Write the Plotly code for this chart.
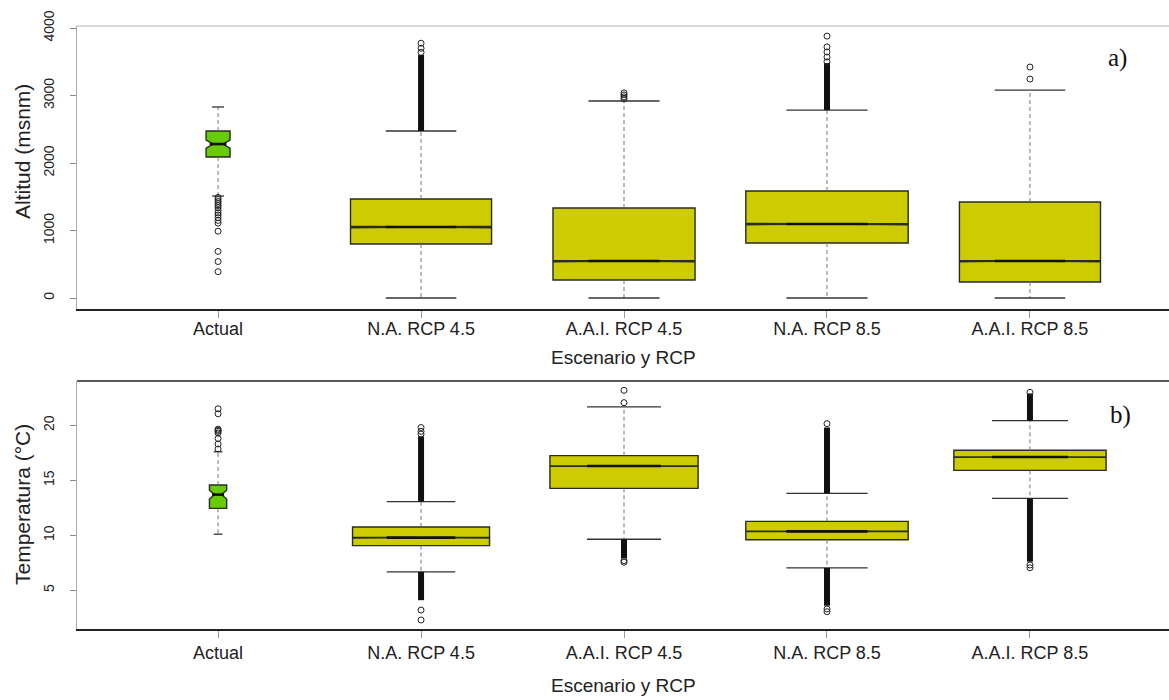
import plotly.graph_objects as go

# ---------------- data ----------------
cats = ["Actual", "N.A. RCP 4.5", "A.A.I. RCP 4.5", "N.A. RCP 8.5", "A.A.I. RCP 8.5"]
positions = [1, 2, 3, 4, 5]

# a) Altitud (msnm)
alt_q1 = [2089, 800, 267, 815, 237]
alt_med = [2281, 1052, 548, 1096, 548]
alt_q3 = [2474, 1467, 1333, 1585, 1422]
alt_lo = [1511, 0, 0, 0, 0]
alt_hi = [2830, 2474, 2919, 2785, 3081]
alt_notch = [60, 12, 10, 10, 10]
alt_width = [0.118, 0.695, 0.70, 0.80, 0.695]
alt_dense_lo = [None, 2474, None, 2785, None]
alt_dense_hi = [None, 3600, None, 3480, None]
alt_out = [
    [1490, 1460, 1430, 1400, 1370, 1340, 1300, 1260, 1230, 1190, 1150, 1110, 990, 690, 540, 390],
    [3640, 3700, 3775],
    [2950, 2980, 3010, 3040],
    [3500, 3570, 3645, 3720, 3880],
    [3244, 3422],
]

# b) Temperatura (°C)
tmp_q1 = [12.45, 9.06, 14.27, 9.6, 15.9]
tmp_med = [13.7, 9.79, 16.3, 10.36, 17.12]
tmp_q3 = [14.57, 10.76, 17.24, 11.27, 17.73]
tmp_lo = [10.1, 6.67, 9.64, 7.03, 13.36]
tmp_hi = [17.6, 13.06, 21.67, 13.82, 20.42]
tmp_notch = [0.4, 0.03, 0.03, 0.03, 0.03]
tmp_width = [0.085, 0.675, 0.73, 0.80, 0.75]
tmp_dense_up_lo = [None, 13.06, None, 13.82, 20.42]
tmp_dense_up_hi = [None, 19.0, None, 19.8, 22.9]
tmp_dense_dn_lo = [None, 4.1, 7.9, 3.6, 7.6]
tmp_dense_dn_hi = [None, 6.67, 9.64, 7.03, 13.36]
tmp_out = [
    [17.85, 18.3, 18.8, 19.3, 19.45, 19.55, 19.65, 21.05, 21.5],
    [19.2, 19.45, 19.8, 3.2, 2.3],
    [22.06, 23.18, 7.7, 7.55],
    [20.15, 3.3, 3.05],
    [23.0, 7.3, 7.05],
]

alt_ticks = [0, 1000, 2000, 3000, 4000]
tmp_ticks = [5, 10, 15, 20]

# ---------------- style ----------------
fills = ["#66CC00", "#CCCC00", "#CCCC00", "#CCCC00", "#CCCC00"]
notchw = [0.3, 0.5, 0.5, 0.5, 0.5]
FONT = "Liberation Sans, Arial, sans-serif"

fig = go.Figure()


def add_panel(xa, ya, q1, med, q3, lo, hi, notch, width, dense, outs):
    # whiskers (dashed)
    wx, wy, cx, cy = [], [], [], []
    for p, a, b, c, d, w in zip(positions, q1, q3, lo, hi, width):
        wx += [p, p, None, p, p, None]
        wy += [b, d, None, a, c, None]
        cw = w * 0.25
        cx += [p - cw, p + cw, None, p - cw, p + cw, None]
        cy += [d, d, None, c, c, None]
    fig.add_trace(go.Scatter(x=wx, y=wy, mode="lines", xaxis=xa, yaxis=ya,
                             line=dict(color="#777777", width=1, dash="4px,3px"),
                             showlegend=False, hoverinfo="skip"))
    fig.add_trace(go.Scatter(x=cx, y=cy, mode="lines", xaxis=xa, yaxis=ya,
                             line=dict(color="#333333", width=1.3),
                             showlegend=False, hoverinfo="skip"))
    # boxes
    for i, p in enumerate(positions):
        fig.add_trace(go.Box(
            x=[p], q1=[q1[i]], median=[med[i]], q3=[q3[i]],
            lowerfence=[q1[i]], upperfence=[q3[i]],
            notched=True, notchspan=[notch[i]], notchwidth=notchw[i],
            width=width[i], whiskerwidth=0,
            fillcolor=fills[i], line=dict(color="#2a2a2a", width=1.4),
            xaxis=xa, yaxis=ya, showlegend=False, boxpoints=False,
            name=cats[i]))
    # thick medians
    mx, my = [], []
    for p, m, w, nw in zip(positions, med, width, notchw):
        h = w / 2 * (1 - nw)
        mx += [p - h, p + h, None]
        my += [m, m, None]
    fig.add_trace(go.Scatter(x=mx, y=my, mode="lines", xaxis=xa, yaxis=ya,
                             line=dict(color="#111111", width=2.6),
                             showlegend=False, hoverinfo="skip"))
    # dense outlier columns
    dx, dy = [], []
    for lo_list, hi_list in dense:
        for p, a, b in zip(positions, lo_list, hi_list):
            if a is not None:
                dx += [p, p, None]
                dy += [a, b, None]
    fig.add_trace(go.Scatter(x=dx, y=dy, mode="lines", xaxis=xa, yaxis=ya,
                             line=dict(color="#111111", width=6),
                             showlegend=False, hoverinfo="skip"))
    # sparse outliers
    ox, oy = [], []
    for p, vals in zip(positions, outs):
        ox += [p] * len(vals)
        oy += vals
    fig.add_trace(go.Scatter(x=ox, y=oy, mode="markers", xaxis=xa, yaxis=ya,
                             marker=dict(symbol="circle-open", size=6, color="#222222",
                                         line=dict(width=1)),
                             showlegend=False, hoverinfo="skip"))


add_panel("x", "y", alt_q1, alt_med, alt_q3, alt_lo, alt_hi, alt_notch, alt_width,
          [(alt_dense_lo, alt_dense_hi)], alt_out)
add_panel("x2", "y2", tmp_q1, tmp_med, tmp_q3, tmp_lo, tmp_hi, tmp_notch, tmp_width,
          [(tmp_dense_up_lo, tmp_dense_up_hi), (tmp_dense_dn_lo, tmp_dense_dn_hi)], tmp_out)

xcommon = dict(range=[0.305, 5.685], tickmode="array", tickvals=positions, ticktext=cats,
               showline=True, linecolor="#222222", linewidth=1.5, ticks="outside",
               ticklen=7, tickcolor="#999999", showgrid=False, zeroline=False,
               tickfont=dict(family=FONT, size=18, color="#222222"))
ycommon = dict(showline=True, linecolor="#aaaaaa", linewidth=1, ticks="outside",
               ticklen=6, tickcolor="#888888", showgrid=False, zeroline=False,
               tickangle=-90, ticklabelstandoff=10,
               tickfont=dict(family=FONT, size=14, color="#222222"))

TOP0 = (629 - 309) / 603
BOT1 = (629 - 381) / 603

fig.update_layout(
    width=1169, height=700, autosize=False,
    margin=dict(l=77, r=0, t=26, b=71),
    paper_bgcolor="white", plot_bgcolor="white",
    boxmode="overlay", showlegend=False,
    xaxis=dict(xcommon, anchor="y", domain=[0, 1], ticklabelstandoff=-4),
    yaxis=dict(ycommon, anchor="x", domain=[TOP0, 1], range=[-163, 4030],
               tickvals=alt_ticks),
    xaxis2=dict(xcommon, anchor="y2", domain=[0, 1]),
    yaxis2=dict(ycommon, anchor="x2", domain=[0, BOT1], range=[1.48, 24.03],
                tickvals=tmp_ticks),
    shapes=[
        dict(type="line", xref="x domain", yref="y domain", x0=0, x1=1, y0=1, y1=1,
             line=dict(color="#cccccc", width=1.5)),
        dict(type="line", xref="x2 domain", yref="y2 domain", x0=0, x1=1, y0=1, y1=1,
             line=dict(color="#222222", width=1.5)),
    ],
    annotations=[
        dict(text="Escenario y RCP", xref="paper", yref="paper", x=(623 - 77) / 1092,
             y=(629 - 357) / 603, showarrow=False, xanchor="center", yanchor="middle",
             font=dict(family=FONT, size=19, color="#222222")),
        dict(text="Escenario y RCP", xref="paper", yref="paper", x=(623 - 77) / 1092,
             y=(629 - 685) / 603, showarrow=False, xanchor="center", yanchor="middle",
             font=dict(family=FONT, size=19, color="#222222")),
        dict(text="Altitud (msnm)", xref="paper", yref="paper", x=(22 - 77) / 1092,
             y=(629 - 152) / 603, showarrow=False, textangle=-90, xanchor="center",
             yanchor="middle", font=dict(family=FONT, size=21, color="#222222")),
        dict(text="Temperatura (°C)", xref="paper", yref="paper", x=(22 - 77) / 1092,
             y=(629 - 505) / 603, showarrow=False, textangle=-90, xanchor="center",
             yanchor="middle", font=dict(family=FONT, size=21, color="#222222")),
        dict(text="a)", xref="paper", yref="paper", x=(1117 - 77) / 1092,
             y=(629 - 58) / 603, showarrow=False, xanchor="center", yanchor="middle",
             font=dict(family="Liberation Serif, serif", size=25, color="#111111")),
        dict(text="b)", xref="paper", yref="paper", x=(1120 - 77) / 1092,
             y=(629 - 415) / 603, showarrow=False, xanchor="center", yanchor="middle",
             font=dict(family="Liberation Serif, serif", size=25, color="#111111")),
    ],
)

fig.write_html("out.html")
